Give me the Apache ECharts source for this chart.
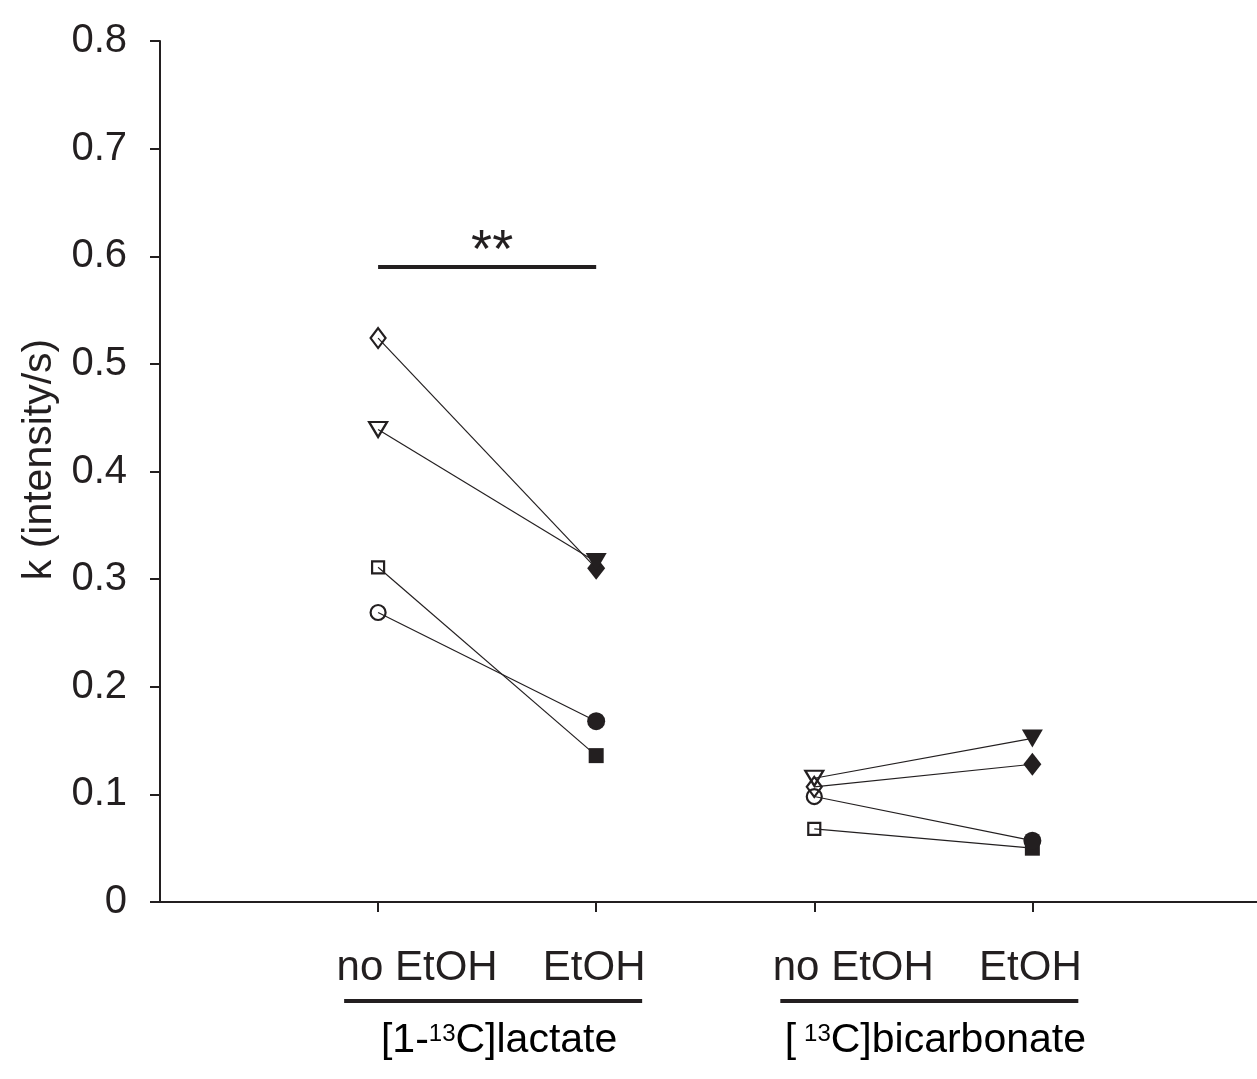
<!DOCTYPE html>
<html>
<head>
<meta charset="utf-8">
<script src="https://cdn.jsdelivr.net/npm/echarts@6/dist/echarts.min.js"></script>
<style>
  html, body { margin: 0; padding: 0; background: #fff; }
  #chart { width: 1257px; height: 1079px; }
</style>
</head>
<body>
<div id="chart"></div>
<script>
// x positions of the four columns and their labels
const xPositions = [1, 2, 3, 4];
const conditionLabels = ['no EtOH', 'EtOH', 'no EtOH', 'EtOH'];
const yTicks = [0, 0.1, 0.2, 0.3, 0.4, 0.5, 0.6, 0.7, 0.8];

// one value per subject: diamond, triangle, square, circle
const lactateNoEtoh = [0.524, 0.439, 0.311, 0.269];
const lactateEtoh = [0.310, 0.316, 0.136, 0.168];
const bicarbNoEtoh = [0.107, 0.115, 0.068, 0.098];
const bicarbEtoh = [0.128, 0.152, 0.050, 0.057];

// significance bar (** between lactate columns)
const sigFrom = 1;
const sigTo = 2;
const sigY = 0.59;

const ink = '#231f20';
const font = '"Liberation Sans", Arial, Helvetica, sans-serif';

// marker look per subject
const shapes = ['diamond', 'triangle', 'rect', 'circle'];
const rotations = [0, 180, 0, 0];
const openSizes = [[15, 20], [18, 15], [12, 12], [15, 15]];
const filledSizes = [[18, 23], [21, 18], [15, 15], [18, 18]];

function pairSeries(x0, before, after) {
  return before.map((v, i) => ({
    type: 'line',
    silent: true,
    symbol: shapes[i],
    symbolRotate: rotations[i],
    lineStyle: { color: ink, width: 1.2 },
    itemStyle: { color: ink },
    data: [
      {
        value: [x0, v],
        symbolSize: openSizes[i],
        itemStyle: { color: 'none', borderColor: ink, borderWidth: 2.2 }
      },
      {
        value: [x0 + 1, after[i]],
        symbolSize: filledSizes[i],
        itemStyle: { color: ink, borderWidth: 0 }
      }
    ]
  }));
}

const series = [
  ...pairSeries(xPositions[0], lactateNoEtoh, lactateEtoh),
  ...pairSeries(xPositions[2], bicarbNoEtoh, bicarbEtoh)
];

series[0].markLine = {
  silent: true,
  symbol: 'none',
  lineStyle: { color: ink, width: 4, type: 'solid' },
  label: {
    show: true,
    position: 'middle',
    formatter: '**',
    color: ink,
    fontFamily: font,
    fontSize: 54,
    padding: [0, 0, 0, 10],
    distance: -12
  },
  data: [[{ coord: [sigFrom, sigY] }, { coord: [sigTo, sigY] }]]
};

const chart = echarts.init(document.getElementById('chart'));

chart.setOption({
  animation: false,
  backgroundColor: '#fff',
  textStyle: { fontFamily: font },
  grid: { left: 160, right: 0, top: 41, bottom: 177, outerBoundsMode: 'none' },
  xAxis: {
    type: 'value',
    min: 0,
    max: 5.03,
    interval: 1,
    splitLine: { show: false },
    axisLine: { lineStyle: { color: ink, width: 2 } },
    axisTick: {
      customValues: xPositions,
      length: 10,
      lineStyle: { color: ink, width: 2 }
    },
    axisLabel: {
      customValues: xPositions,
      margin: 45,
      color: ink,
      fontSize: 42,
      fontFamily: font,
      formatter: (v) => {
        const label = conditionLabels[xPositions.indexOf(v)];
        return label === 'no EtOH' ? '{p|' + label + '}' : '{q|' + label + '}';
      },
      rich: {
        p: { fontSize: 42, color: ink, fontFamily: font, padding: [0, 0, 0, 78] },
        q: { fontSize: 42, color: ink, fontFamily: font, padding: [0, 4, 0, 0] }
      }
    }
  },
  yAxis: {
    type: 'value',
    min: 0,
    max: 0.8,
    interval: 0.1,
    name: 'k (intensity/s)',
    nameLocation: 'middle',
    nameRotate: 90,
    nameGap: 100,
    nameTextStyle: { fontSize: 41, color: ink, fontFamily: font, padding: [0, 0, 0, 24] },
    splitLine: { show: false },
    axisLine: { show: true, lineStyle: { color: ink, width: 2 } },
    axisTick: { show: true, length: 10, lineStyle: { color: ink, width: 2 } },
    axisLabel: {
      margin: 33,
      color: ink,
      fontSize: 40,
      fontFamily: font,
      formatter: (v) => {
        const t = yTicks.find(t => Math.abs(t - v) < 1e-9);
        return t === 0 ? '0' : t.toFixed(1);
      }
    }
  },
  series
});

// group underline and group names below the axis labels
const groupMid = [
  chart.convertToPixel({ gridIndex: 0 }, [(xPositions[0] + xPositions[1]) / 2, 0])[0],
  chart.convertToPixel({ gridIndex: 0 }, [(xPositions[2] + xPositions[3]) / 2, 0])[0]
];
const rich = {
  a: { fontSize: 41, color: ink, fontFamily: font },
  s: { fontSize: 24, color: ink, fontFamily: font, verticalAlign: 'top', padding: [2, 0, 0, 0] },
  t: { fontSize: 24, color: ink, fontFamily: font, verticalAlign: 'top', padding: [2, 0, 0, 8] }
};
chart.setOption({
  graphic: [
    { type: 'line', shape: { x1: groupMid[0] - 143, y1: 1001, x2: groupMid[0] + 155, y2: 1001 }, style: { stroke: ink, lineWidth: 4 } },
    { type: 'line', shape: { x1: groupMid[1] - 143, y1: 1001, x2: groupMid[1] + 155, y2: 1001 }, style: { stroke: ink, lineWidth: 4 } },
    {
      type: 'text', x: groupMid[0] + 12, y: 1041,
      style: { text: '{a|[1-}{s|13}{a|C]lactate}', rich, align: 'center', verticalAlign: 'middle' }
    },
    {
      type: 'text', x: groupMid[1] + 12, y: 1041,
      style: { text: '{a|[}{t|13}{a|C]bicarbonate}', rich, align: 'center', verticalAlign: 'middle' }
    }
  ]
});
</script>
</body>
</html>
